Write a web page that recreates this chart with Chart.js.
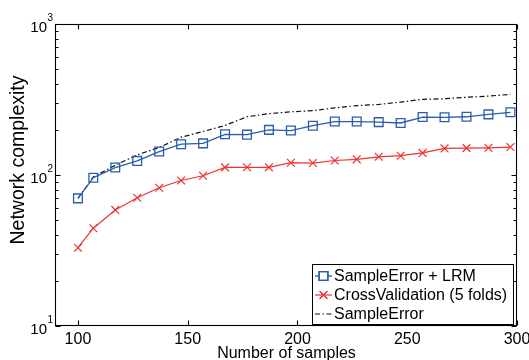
<!DOCTYPE html>
<html><head><meta charset="utf-8">
<script src="https://cdn.jsdelivr.net/npm/chart.js@4.4.1/dist/chart.umd.min.js"></script>
<style>html,body{margin:0;padding:0;background:#fff;}#wrap{position:relative;width:529px;height:360px;}</style>
</head><body><div id="wrap"><canvas id="c" width="529" height="360"></canvas></div>
<script>
const samples = [100,107,117,127,137,147,157,167,177,187,197,207,217,227,237,247,257,267,277,287,297];
const lrm = [70,96,112,124,143,160,162,186,185,199,197,212,226,226,224,221,242,241,243,252,260];
const cv  = [33,44.4,58.7,70.7,82.4,92,98.8,112.3,112.5,112.4,120.6,120,124.7,127,132,134.2,140,150,150.7,151.4,153.2];
const se  = [70,97,116,136,152,178,194,213,243,255,262,267,278,288,293,304,317,320,327,333,342];
const xTicks = [100,150,200,250,300];
const yDecades = [10,100,1000];
const yExponents = ['1','2','3'];
const seriesLabels = ['SampleError + LRM','CrossValidation (5 folds)','SampleError'];
const xTitle = 'Number of samples';
const yTitle = 'Network complexity';

const FONT = "'Liberation Sans', Arial, sans-serif";
const BLUE = '#2a5cad';
const RED = '#ee3333';
const BLACK = '#111111';

function pts(ys){ return samples.map((x,i)=>({x:x,y:ys[i]})); }

const framePlugin = {
  id:'frame',
  afterDatasetsDraw(chart){
    const ctx = chart.ctx, ca = chart.chartArea;
    const xs = chart.scales.x, ys = chart.scales.y;
    const L = Math.round(ca.left)-0.5, R = Math.round(ca.right)-0.5, T = Math.round(ca.top)+0.5, B = Math.round(ca.bottom)-0.5;
    ctx.save();
    ctx.strokeStyle = '#000'; ctx.lineWidth = 1.1;
    ctx.strokeRect(L, T, R-L, B-T);
    ctx.beginPath();
    xTicks.forEach(v=>{
      const px = Math.round(xs.getPixelForValue(v))+0.5;
      ctx.moveTo(px,B); ctx.lineTo(px,B-5);
      ctx.moveTo(px,T); ctx.lineTo(px,T+5);
    });
    for(let k=0;k<yDecades.length;k++){
      const d = yDecades[k];
      const maxM = (k===yDecades.length-1)?1:9;
      for(let m=1;m<=maxM;m++){
        const v = d*m;
        const py = Math.round(ys.getPixelForValue(v))+0.5;
        const len = m===1?5:3;
        ctx.moveTo(L,py); ctx.lineTo(L+len,py);
        ctx.moveTo(R,py); ctx.lineTo(R-len,py);
      }
    }
    ctx.stroke();
    // y tick labels 10^k
    ctx.fillStyle = '#000';
    yDecades.forEach((d,i)=>{
      const py = ys.getPixelForValue(d);
      ctx.font = '15px '+FONT;
      ctx.textAlign='right'; ctx.textBaseline='alphabetic';
      ctx.fillText('10', 47, py+8);
      ctx.font = '10px '+FONT;
      ctx.textAlign='left';
      ctx.fillText(yExponents[i], 47.5, py-3);
    });
    // y axis title
    ctx.save();
    ctx.translate(19, 160);
    ctx.rotate(-Math.PI/2);
    ctx.font = '19.5px '+FONT;
    ctx.textAlign='center'; ctx.textBaseline='middle';
    ctx.fillText(yTitle, 0, 0);
    ctx.restore();
    ctx.restore();
  },
  afterDraw(chart){
    const ctx = chart.ctx;
    const bx=312.5, by=264.5, bw=201, bh=60;
    ctx.save();
    ctx.fillStyle='#fff'; ctx.fillRect(bx,by,bw,bh);
    ctx.strokeStyle='#000'; ctx.lineWidth=1; ctx.strokeRect(bx,by,bw,bh);
    const rows=[276,295,314];
    chart.data.datasets.forEach((ds,i)=>{
      const y = rows[i];
      ctx.strokeStyle = ds.borderColor; ctx.lineWidth = ds.borderWidth;
      ctx.setLineDash(ds.borderDash||[]);
      ctx.beginPath(); ctx.moveTo(315,y); ctx.lineTo(332,y); ctx.stroke();
      ctx.setLineDash([]);
      if(ds.pointRadius>0){
        Chart.helpers.drawPoint(ctx,{pointStyle:ds.pointStyle,radius:ds.pointRadius,borderWidth:ds.pointBorderWidth,rotation:0},323.5,y);
        ctx.strokeStyle = ds.pointBorderColor; ctx.lineWidth = ds.pointBorderWidth;
        ctx.stroke();
      }
      ctx.fillStyle='#000'; ctx.font='16px '+FONT; ctx.textAlign='left'; ctx.textBaseline='middle';
      ctx.fillText(ds.label, 334, y+1);
    });
    ctx.restore();
  }
};

new Chart(document.getElementById('c'), {
  type:'line',
  data:{datasets:[
    {label:seriesLabels[0], data:pts(lrm), borderColor:BLUE, borderWidth:1.3, pointStyle:'rect', pointRadius:6.2, pointBorderColor:BLUE, pointBorderWidth:1.3, pointBackgroundColor:'rgba(0,0,0,0)', tension:0},
    {label:seriesLabels[1], data:pts(cv), borderColor:RED, borderWidth:1.2, pointStyle:'crossRot', pointRadius:5.5, pointBorderColor:RED, pointBorderWidth:1.2, pointBackgroundColor:RED, tension:0},
    {label:seriesLabels[2], data:pts(se), borderColor:BLACK, borderWidth:1.2, borderDash:[5,2.5,1.5,2.5], pointRadius:0, tension:0}
  ]},
  options:{
    responsive:false, animation:false, devicePixelRatio:1,
    layout:{padding:{left:0,right:12,top:24,bottom:0}},
    plugins:{legend:{display:false}, tooltip:{enabled:false}},
    scales:{
      x:{type:'linear', min:90, max:300, position:'bottom',
        grid:{display:false, drawTicks:false}, border:{display:false},
        ticks:{color:'#000', font:{family:FONT,size:16}, padding:4, maxRotation:0, autoSkip:false},
        afterBuildTicks:s=>{ s.ticks = xTicks.map(v=>({value:v})); },
        afterFit:s=>{ s.height = 34; s.paddingLeft=0; s.paddingRight=0; },
        title:{display:true, text:xTitle, color:'#000', font:{family:FONT,size:16,lineHeight:1}, padding:{top:0,bottom:-2}}
      },
      y:{type:'logarithmic', min:10, max:1000, position:'left',
        grid:{display:false, drawTicks:false}, border:{display:false},
        ticks:{display:false},
        afterFit:s=>{ s.width = 56; s.paddingTop=0; s.paddingBottom=0; },
        title:{display:false}
      }
    }
  },
  plugins:[framePlugin]
});
</script></body></html>
